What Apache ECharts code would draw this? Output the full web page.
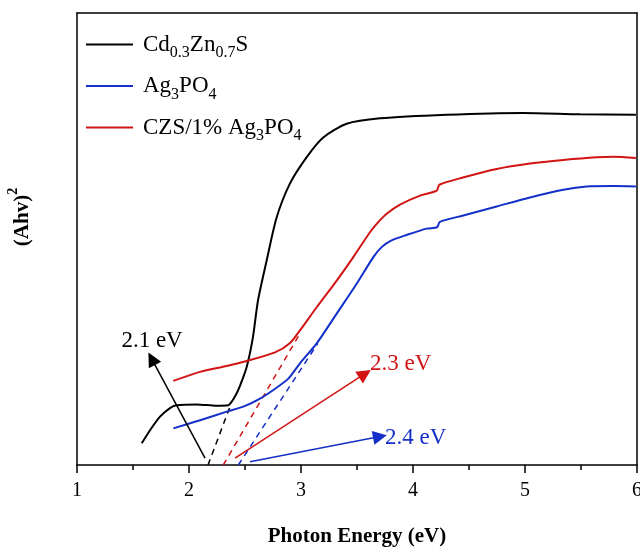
<!DOCTYPE html>
<html>
<head>
<meta charset="utf-8">
<script src="https://cdn.jsdelivr.net/npm/echarts@6/dist/echarts.min.js"></script>
<style>html,body{margin:0;padding:0;background:#fff;}#c{width:640px;height:550px;}</style>
</head>
<body>
<div id="c"></div>
<script>
// ---- data (Photon energy in eV, (Ahv)^2 in arbitrary units 0-100) ----
const xTicks = [1, 2, 3, 4, 5, 6];

const czsE = [1.578, 1.652, 1.741, 1.830, 1.890, 2.069, 2.247, 2.351, 2.381, 2.420, 2.455, 2.515, 2.571, 2.616, 2.694, 2.783, 2.902, 3.051, 3.196, 3.408, 3.705, 4.301, 4.982, 5.491, 5.990];
const czsA = [4.8, 7.7, 10.7, 12.6, 13.2, 13.4, 13.1, 13.2, 14.0, 15.6, 17.5, 21.7, 28.3, 36.4, 45.3, 54.8, 62.3, 68.1, 72.4, 75.5, 76.7, 77.5, 77.9, 77.6, 77.5];

const agE = [1.860, 2.098, 2.337, 2.485, 2.634, 2.753, 2.887, 2.991, 3.140, 3.319, 3.497, 3.646, 3.720, 3.800, 3.944, 4.122, 4.215, 4.240, 4.449, 4.747, 5.045, 5.342, 5.551, 5.789, 5.990];
const agA = [8.1, 9.9, 11.8, 12.9, 14.7, 16.6, 19.1, 22.5, 26.9, 33.5, 40.1, 46.0, 48.2, 49.6, 50.9, 52.3, 52.6, 53.8, 55.2, 57.2, 59.2, 60.9, 61.6, 61.7, 61.6];

const compE = [1.860, 2.098, 2.337, 2.515, 2.768, 2.902, 2.991, 3.140, 3.319, 3.467, 3.616, 3.700, 3.765, 3.884, 4.063, 4.212, 4.235, 4.446, 4.747, 5.045, 5.342, 5.640, 5.789, 5.990];
const compA = [18.6, 20.6, 21.9, 23.0, 24.9, 27.0, 29.8, 34.9, 40.8, 46.0, 51.5, 54.0, 55.6, 57.6, 59.6, 60.7, 62.0, 63.6, 65.5, 66.7, 67.5, 68.1, 68.2, 67.9];

// tangent (extrapolation) lines: [E, A] endpoints
const tangentCZS = [[2.170, 0], [2.375, 13.5]];
const tangentComp = [[2.306, 0], [2.991, 29.1]];
const tangentAg = [[2.440, 0], [3.150, 26.9]];

// annotation arrows: [start, tip]
const arrowCZS = [[2.143, 1.5], [1.667, 23.5]];
const arrowComp = [[2.411, 1.5], [3.571, 20.2]];
const arrowAg = [[2.545, 0.7], [3.705, 6.3]];

// annotation labels
const labelCZS = [1.670, 27.5, '2.1 eV'];
const labelComp = [3.616, 22.3, '2.3 eV'];
const labelAg = [3.750, 6.0, '2.4 eV'];

const seriesNames = ['Cd0.3Zn0.7S', 'Ag3PO4', 'CZS/1% Ag3PO4'];
const legendRich = {
  'Cd0.3Zn0.7S': '{n|Cd}{s|0.3}{n|Zn}{s|0.7}{n|S}',
  'Ag3PO4': '{n|Ag}{s|3}{n|PO}{s|4}',
  'CZS/1% Ag3PO4': '{n|CZS/1% Ag}{s|3}{n|PO}{s|4}'
};

const BLACK = '#000000', BLUE = '#1430c8', RED = '#d21414';
const FONT = '"Liberation Serif", "Times New Roman", serif';

function zip(a, b) { return a.map((v, i) => [v, b[i]]); }

const chart = echarts.init(document.getElementById('c'), null, {renderer: 'canvas'});

function curve(name, e, a, color) {
  return {
    name: name, type: 'line', data: zip(e, a), symbol: 'none', smooth: 0.25,
    lineStyle: {color: color, width: 2}, itemStyle: {color: color}, z: 3
  };
}
function dashed(pts, color) {
  return {
    type: 'line', data: pts, symbol: 'none', silent: true,
    lineStyle: {color: color, width: 1.5, type: [6, 5]}, z: 2
  };
}
function arrow(pts, color) {
  return {
    type: 'lines', coordinateSystem: 'cartesian2d', silent: true,
    symbol: ['none', 'triangle'], symbolSize: [8, 14],
    lineStyle: {color: color, width: 1.5, opacity: 1, curveness: 0},
    data: [{coords: pts}], z: 4
  };
}
function label(d, color, pos) {
  return {
    type: 'scatter', data: [d], symbolSize: 0, silent: true,
    itemStyle: {opacity: 1, color: color},
    label: {show: true, position: pos, distance: 0, formatter: p => p.data[2],
      color: color, opacity: 1, fontFamily: FONT, fontSize: 23}, z: 5
  };
}
const axisLineStyle = {show: true, onZero: false, lineStyle: {color: '#000', width: 1.5}};

chart.setOption({
  animation: false,
  backgroundColor: '#fff',
  grid: {left: 77, right: 3, top: 13, bottom: 85, outerBoundsMode: 'none', containLabel: false},
  legend: {
    data: seriesNames.map(n => ({name: n, icon: 'rect'})), orient: 'vertical', left: 86, top: 33, padding: 0,
    itemWidth: 47, itemHeight: 2, itemGap: 13.5,
    formatter: n => legendRich[n],
    textStyle: {
      fontFamily: FONT, fontSize: 23, color: '#000', padding: [0, 0, 0, 5],
      rich: {
        n: {fontFamily: FONT, fontSize: 23, color: '#000', verticalAlign: 'top', padding: [5, 0, 0, 0]},
        s: {fontFamily: FONT, fontSize: 16, color: '#000', verticalAlign: 'top', padding: [17, 0, 0, 0]}
      }
    }
  },
  xAxis: [{
    type: 'value', min: 1, max: 6, interval: 1, position: 'bottom',
    axisLine: axisLineStyle,
    axisTick: {show: true, inside: false, length: 8, lineStyle: {color: '#000', width: 1.5}},
    minorTick: {show: true, splitNumber: 2, length: 5, lineStyle: {color: '#000', width: 1.5}},
    splitLine: {show: false},
    axisLabel: {color: '#000', fontFamily: FONT, fontSize: 20, margin: 16,
      formatter: v => xTicks.includes(v) ? String(v) : ''},
    name: 'Photon Energy (eV)', nameLocation: 'middle', nameGap: 61,
    nameTextStyle: {color: '#000', fontFamily: FONT, fontSize: 21, fontWeight: 'bold'}
  }, {
    type: 'value', min: 1, max: 6, position: 'top',
    axisLine: axisLineStyle,
    axisTick: {show: false}, axisLabel: {show: false}, splitLine: {show: false}
  }],
  yAxis: [{
    type: 'value', min: 0, max: 100, position: 'left',
    axisLine: axisLineStyle,
    axisTick: {show: false}, axisLabel: {show: false}, splitLine: {show: false}
  }, {
    type: 'value', min: 0, max: 100, position: 'right',
    axisLine: axisLineStyle,
    axisTick: {show: false}, axisLabel: {show: false}, splitLine: {show: false}
  }],
  graphic: [{
    type: 'text', x: 20, y: 217, rotation: Math.PI / 2,
    style: {
      text: '{a|(Ahv)}{b|2}', align: 'center', verticalAlign: 'middle',
      rich: {
        a: {fontFamily: FONT, fontSize: 21, fontWeight: 'bold', fill: '#000', verticalAlign: 'bottom', padding: [6, 0, 0, 0]},
        b: {fontFamily: FONT, fontSize: 14, fontWeight: 'bold', fill: '#000', verticalAlign: 'top'}
      }
    }
  }],
  series: [
    curve(seriesNames[0], czsE, czsA, BLACK),
    curve(seriesNames[1], agE, agA, BLUE),
    curve(seriesNames[2], compE, compA, RED),
    dashed(tangentCZS, BLACK),
    dashed(tangentComp, RED),
    dashed(tangentAg, BLUE),
    arrow(arrowCZS, BLACK),
    arrow(arrowComp, RED),
    arrow(arrowAg, BLUE),
    label(labelCZS, BLACK, 'inside'),
    label(labelComp, RED, 'right'),
    label(labelAg, BLUE, 'right')
  ]
});
</script>
</body>
</html>
